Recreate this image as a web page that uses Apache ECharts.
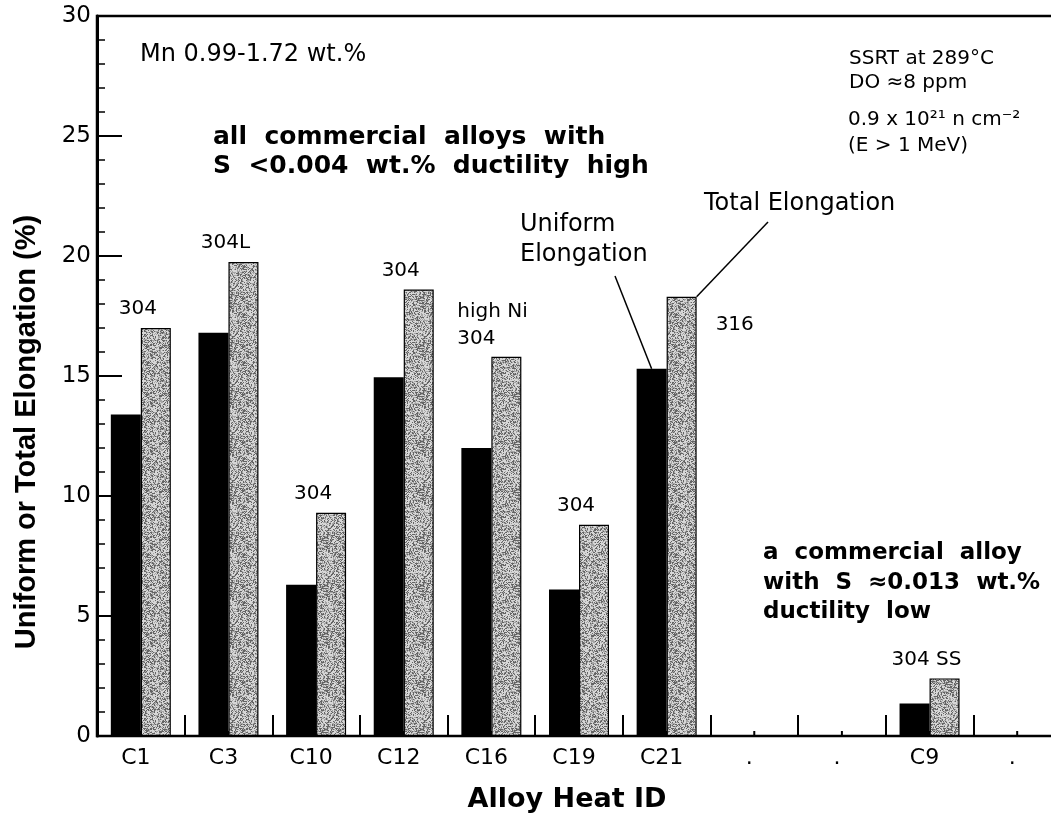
<!DOCTYPE html>
<html><head><meta charset="utf-8">
<script src="https://cdn.jsdelivr.net/npm/echarts@6/dist/echarts.min.js"></script>
<style>html,body{margin:0;padding:0;background:#fff;overflow:hidden}#c{width:1061px;height:816px}</style>
</head><body><div id="c"></div>
<script>
// ---- data ----
const categories = ['C1','C3','C10','C12','C16','C19','C21','.','.','C9','.'];
const uniformElong = [13.4, 16.8, 6.3, 14.95, 12.0, 6.1, 15.3, null, null, 1.35, null];
const totalElong   = [17.0, 19.75, 9.3, 18.6, 15.8, 8.8, 18.3, null, null, 2.4, null];
const alloyTypes   = ['304','304L','304','304','high Ni\n304','304','316','','','304 SS',''];
const yTicks = [0, 5, 10, 15, 20, 25, 30];

// ---- stipple texture for the total-elongation bars ----
function makePattern() {
  const n = 48, c = document.createElement('canvas');
  c.width = c.height = n;
  const ctx = c.getContext('2d');
  const img = ctx.createImageData(n, n);
  for (let y = 0; y < n; y++) for (let x = 0; x < n; x++) {
    let h = Math.imul(x + 1, 374761393) ^ Math.imul(y + 7, 668265263);
    h = Math.imul(h ^ (h >>> 13), 1274126177);
    h = (h ^ (h >>> 16)) >>> 0;
    const r = (h % 1000) / 1000;
    const v = r < 0.3 ? 100 : (r < 0.58 ? 165 : 215);
    const k = (y * n + x) * 4;
    img.data[k] = img.data[k + 1] = img.data[k + 2] = v;
    img.data[k + 3] = 255;
  }
  ctx.putImageData(img, 0, 0);
  return c;
}
const pattern = { image: makePattern(), repeat: 'repeat' };

const FONT = 'DejaVu Sans';
const labelPlacement = {
  'C16': { position: [-34, -5], align: 'left', verticalAlign: 'bottom', offset: [0, 0], lineHeight: 27 },
  'C21': { position: [49, 28], align: 'left', verticalAlign: 'middle', offset: [0, 0] }
};

const totalData = totalElong.map((v, i) => {
  const item = { value: v };
  if (labelPlacement[categories[i]]) item.label = labelPlacement[categories[i]];
  return item;
});

const chart = echarts.init(document.getElementById('c'), null, { renderer: 'canvas' });

chart.setOption({
  animation: false,
  backgroundColor: '#fff',
  grid: { left: 97, right: 0, top: 16, bottom: 80, show: true, borderColor: '#000', borderWidth: 2.5, backgroundColor: 'transparent' },
  xAxis: {
    type: 'category',
    data: categories,
    axisLine: { show: true, lineStyle: { color: '#000', width: 2 } },
    axisTick: { show: true, inside: true, length: 21, alignWithLabel: false, lineStyle: { color: '#000', width: 2 } },
    axisLabel: { interval: 0, color: '#000', fontSize: 22, fontFamily: FONT, margin: 11, padding: [0, 10, 0, 0] },
    splitLine: { show: false }
  },
  yAxis: {
    type: 'value',
    min: yTicks[0], max: yTicks[yTicks.length - 1], interval: yTicks[1] - yTicks[0],
    axisLine: { show: true, lineStyle: { color: '#000', width: 3 } },
    axisTick: { show: true, inside: true, length: 25, lineStyle: { color: '#000', width: 2 } },
    minorTick: { show: true, splitNumber: 5, length: 8, lineStyle: { color: '#000', width: 1.5 } },
    axisLabel: { color: '#000', fontSize: 23, fontFamily: FONT, margin: 6 },
    splitLine: { show: false },
    minorSplitLine: { show: false }
  },
  series: [
    {
      type: 'custom', z: 1, silent: true,
      data: categories.map((c, i) => [i, 0]),
      encode: { x: 0, y: 1 },
      renderItem: (params, api) => {
        const p = api.coord([api.value(0), 0]);
        return { type: 'line', shape: { x1: p[0], y1: p[1], x2: p[0], y2: p[1] - 5 }, style: { stroke: '#000', lineWidth: 2 } };
      }
    },
    {
      name: 'Uniform Elongation', type: 'bar', z: 2,
      data: uniformElong, barWidth: 30, barGap: '0%',
      itemStyle: { color: '#000' }
    },
    {
      name: 'Total Elongation', type: 'bar', z: 2,
      data: totalData, barWidth: 30, barGap: '0%',
      itemStyle: { color: pattern, borderColor: '#000', borderWidth: 1.2 },
      label: {
        show: true, position: 'top', distance: 9, offset: [-18, 0],
        formatter: p => alloyTypes[p.dataIndex],
        fontSize: 20, fontFamily: FONT, color: '#000'
      }
    }
  ]
});

// ---- annotations ----
const i21 = categories.indexOf('C21');
const pU = chart.convertToPixel({ gridIndex: 0 }, [i21, uniformElong[i21]]);
const pT = chart.convertToPixel({ gridIndex: 0 }, [i21, totalElong[i21]]);

function txt(x, y, text, font, align) {
  return { type: 'text', x: x, y: y, z: 10,
    style: { text: text, font: font, fill: '#000', textAlign: align || 'left', textVerticalAlign: 'middle' } };
}
const reg = s => s + 'px "DejaVu Sans"';
const bold = s => 'bold ' + s + 'px "DejaVu Sans"';

chart.setOption({
  graphic: [
    { type: 'text', x: 27, y: 432, rotation: Math.PI / 2, z: 10,
      style: { text: 'Uniform or Total Elongation (%)', font: 'bold 29px "Liberation Sans"', fill: '#000', textAlign: 'center', textVerticalAlign: 'middle' } },
    txt(567, 800, 'Alloy Heat ID', bold(27), 'center'),
    txt(140, 55, 'Mn 0.99-1.72 wt.%', reg(24)),
    txt(213, 137, 'all  commercial  alloys  with', bold(25)),
    txt(213, 166, 'S  <0.004  wt.%  ductility  high', bold(25)),
    txt(849, 59, 'SSRT at 289°C', reg(20)),
    txt(849, 83, 'DO ≈8 ppm', reg(20)),
    txt(848, 120, '0.9 x 10²¹ n cm⁻²', reg(20)),
    txt(848, 146, '(E > 1 MeV)', reg(20)),
    txt(704, 204, 'Total Elongation', reg(24)),
    txt(520, 225, 'Uniform', reg(24)),
    txt(520, 255, 'Elongation', reg(24)),
    txt(763, 553, 'a  commercial  alloy', bold(23)),
    txt(763, 583, 'with  S  ≈0.013  wt.%', bold(23)),
    txt(763, 612, 'ductility  low', bold(23)),
    { type: 'line', z: 10, shape: { x1: 615, y1: 276, x2: pU[0] - 15, y2: pU[1] }, style: { stroke: '#000', lineWidth: 1.5 } },
    { type: 'line', z: 10, shape: { x1: 768, y1: 222, x2: pT[0] + 30, y2: pT[1] }, style: { stroke: '#000', lineWidth: 1.5 } }
  ]
});
</script>
</body></html>
